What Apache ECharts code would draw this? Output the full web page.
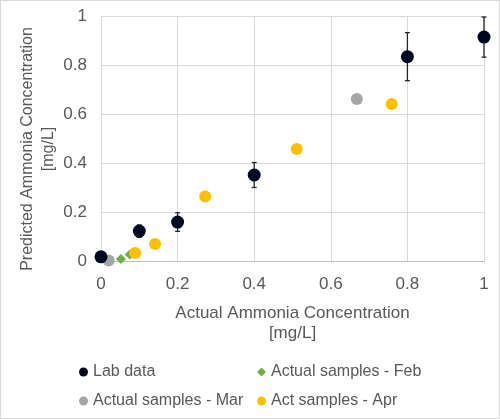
<!DOCTYPE html>
<html><head><meta charset="utf-8">
<script src="https://cdn.jsdelivr.net/npm/echarts@6/dist/echarts.min.js"></script>
<style>html,body{margin:0;padding:0;background:#fff}#c{width:498px;height:417px;border:1px solid #d9d9d9}</style>
</head><body><div id="c"></div>
<script>
const labX = [0, 0.1, 0.2, 0.4, 0.8, 1.0];
const labY = [0.017, 0.122, 0.159, 0.351, 0.834, 0.914];
const labErr = [0.018, 0.025, 0.038, 0.051, 0.098, 0.082];
const febX = [0.015, 0.052, 0.075];
const febY = [0.003, 0.008, 0.027];
const marX = [0.02, 0.668];
const marY = [0.002, 0.661];
const aprX = [0.089, 0.141, 0.272, 0.511, 0.759];
const aprY = [0.033, 0.069, 0.263, 0.457, 0.641];
const xTicks = [0, 0.2, 0.4, 0.6, 0.8, 1];
const yTicks = [0, 0.2, 0.4, 0.6, 0.8, 1];

const zip = (a, b) => a.map((v, i) => [v, b[i]]);
const font = 'Liberation Sans';
const fs = 17;
const tc = '#595959';
const chart = echarts.init(document.getElementById('c'));
const errData = labX.map((x, i) => [x, labY[i] - labErr[i], labY[i] + labErr[i]]);
function legend(name, left, top, icon) {
  return {data: [{name, icon}], left, top, itemWidth: 9, itemHeight: 9, itemGap: 4,
    textStyle: {fontFamily: font, fontSize: 16, color: tc}, selectedMode: false};
}
chart.setOption({
  animation: false,
  grid: {left: 100, right: 15, top: 15, bottom: 157, outerBoundsMode: 'none', containLabel: false},
  graphic: [{
    type: 'text', x: 37, y: 148, rotation: Math.PI / 2,
    style: {text: 'Predicted Ammonia Concentration\n[mg/L]', fill: tc, font: '16px "Liberation Sans"',
      align: 'center', verticalAlign: 'middle', lineHeight: 21}
  }],
  xAxis: {type: 'value', min: 0, max: 1, interval: 0.2,
    axisLine: {show: true, lineStyle: {color: '#bfbfbf'}},
    axisTick: {show: false},
    splitLine: {lineStyle: {color: '#d9d9d9'}},
    axisLabel: {fontFamily: font, fontSize: fs, color: tc, margin: 15, formatter: v => String(+v.toFixed(1))},
    name: 'Actual Ammonia Concentration\n[mg/L]', nameLocation: 'middle', nameGap: 42,
    nameTextStyle: {fontFamily: font, fontSize: fs, color: tc, lineHeight: 20}
  },
  yAxis: {type: 'value', min: 0, max: 1, interval: 0.2,
    axisLine: {show: false}, axisTick: {show: false},
    splitLine: {lineStyle: {color: '#d9d9d9'}},
    axisLabel: {fontFamily: font, fontSize: fs, color: tc, margin: 14, formatter: v => String(+v.toFixed(1))}
  },
  legend: [
    legend('Lab data', 73, 358, 'circle'),
    legend('Actual samples - Feb', 251, 358, 'diamond'),
    legend('Actual samples - Mar', 73, 387, 'circle'),
    legend('Act samples - Apr', 251, 387, 'circle')
  ],
  series: [
    {name: 'Actual samples - Feb', type: 'scatter', data: zip(febX, febY), symbol: 'diamond', symbolSize: 10, itemStyle: {color: '#70ad47', opacity: 1}, z: 2},
    {name: 'Actual samples - Mar', type: 'scatter', data: zip(marX, marY), symbol: 'circle', symbolSize: 12, itemStyle: {color: '#a5a5a5', opacity: 1}, z: 3},
    {name: 'Act samples - Apr', type: 'scatter', data: zip(aprX, aprY), symbol: 'circle', symbolSize: 12, itemStyle: {color: '#ffc000', opacity: 1}, z: 4},
    {name: 'err', type: 'custom', data: errData, z: 5,
      renderItem: (params, api) => {
        const x = api.value(0);
        const lo = api.coord([x, api.value(1)]);
        const hi = api.coord([x, api.value(2)]);
        const w = 2.5;
        const st = {stroke: '#262626', lineWidth: 1.3};
        return {type: 'group', children: [
          {type: 'line', shape: {x1: lo[0], y1: lo[1], x2: hi[0], y2: hi[1]}, style: st},
          {type: 'line', shape: {x1: lo[0]-w, y1: lo[1], x2: lo[0]+w, y2: lo[1]}, style: st},
          {type: 'line', shape: {x1: hi[0]-w, y1: hi[1], x2: hi[0]+w, y2: hi[1]}, style: st}
        ]};
      }},
    {name: 'Lab data', type: 'scatter', data: zip(labX, labY), symbol: 'circle', symbolSize: 13, itemStyle: {color: '#000820', opacity: 1}, z: 6}
  ]
});
</script></body></html>
